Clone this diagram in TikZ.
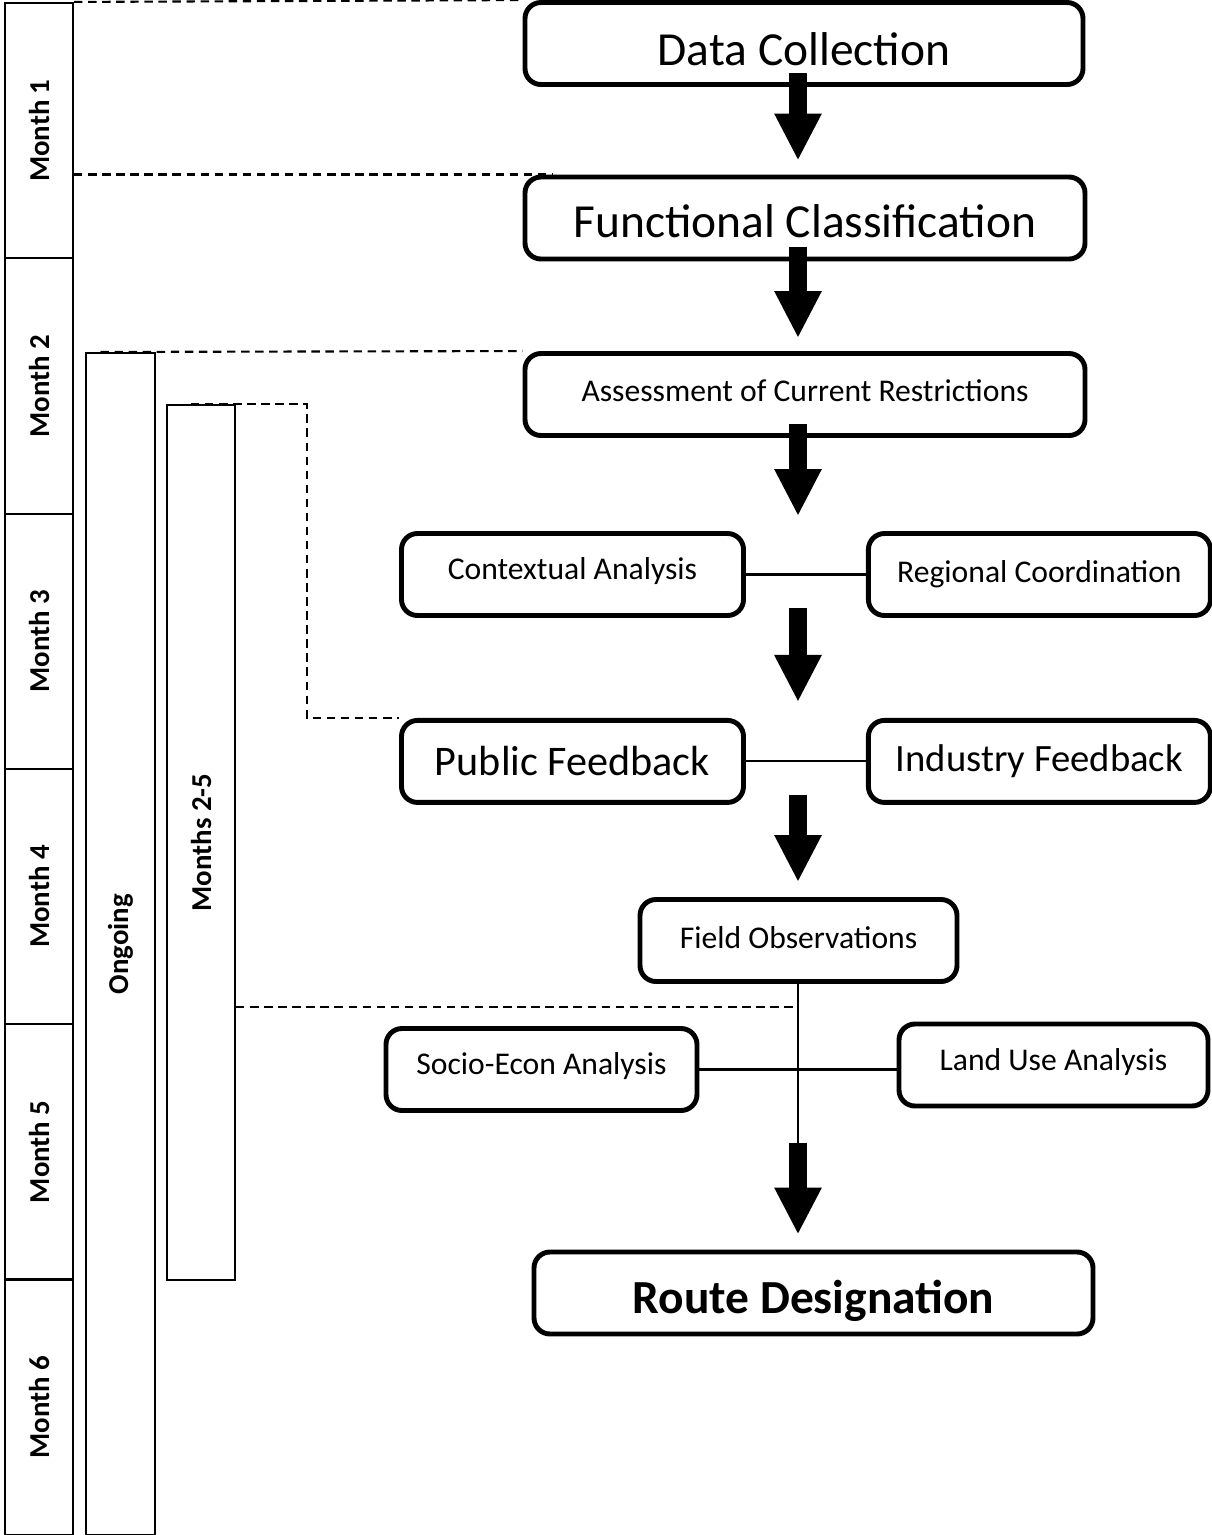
\documentclass[tikz,border=0pt]{standalone}
\usepackage{fontspec}
\setmainfont{Carlito}
\usetikzlibrary{positioning,calc,arrows.meta}

\newcommand{\shifttxt}[2]{\raisebox{#1}[\height][\depth]{#2}}

\begin{document}
\begin{tikzpicture}[proc/.style={
                draw, line width=1.4pt, rounded corners=1.6mm, align=center,
                inner sep=0pt, minimum height=0.82cm},
            month/.style={draw, line width=0.6pt, rotate=90, inner sep=0pt,
                minimum height=0.68cm, font=\fontsize{8.2}{10}\selectfont\bfseries},
            bigtxt/.style={font=\fontsize{13.5}{16}\selectfont},
            midtxt/.style={font=\fontsize{12}{14}\selectfont},
            smalltxt/.style={font=\fontsize{9}{11}\selectfont},
            bigarrow/.style={line width=1.8mm, -{Triangle[width=4.4mm,length=4.7mm]}},
            dashline/.style={line width=0.6pt, dash pattern=on 2.4pt off 1.6pt},
            link/.style={line width=0.6pt}]

  \useasboundingbox (0,0) rectangle (12.12,-15.35);

  % time line on the left
  \foreach \i in {1,...,6}
    \node [month, minimum width=2.553cm] (m\i) at (0.39,{-0.03-2.553*(\i-0.5)}) {Month \i};
  \node [month, minimum width=11.82cm, minimum height=0.69cm] (og) at (1.205,-9.44) {Ongoing};
  \node [month, minimum width=8.75cm] (mm) at (2.01,-8.425) {Months 2-5};

  % process boxes
  \node [proc, bigtxt, minimum width=5.58cm] (dc) at (8.04,-0.435) {\shifttxt{-0.6mm}{Data Collection}};
  \node [proc, bigtxt, minimum width=5.6cm] (fc) at (8.05,-2.18) {\shifttxt{-0.3mm}{Functional Classification}};
  \node [proc, smalltxt, minimum width=5.6cm] (ac) at (8.05,-3.945) {\shifttxt{0.4mm}{Assessment of Current Restrictions}};
  \node [proc, smalltxt, minimum width=3.42cm] (ca) at (5.725,-5.745) {\shifttxt{0.3mm}{Contextual Analysis}};
  \node [proc, smalltxt, minimum width=3.42cm, right=1.2cm of ca] (rc) {Regional Coordination};
  \node [proc, midtxt, minimum width=3.42cm, below=1cm of ca] (pf) {Public Feedback};
  \node [proc, font=\fontsize{11}{13}\selectfont, minimum width=3.42cm, right=1.2cm of pf] (ifb) {Industry Feedback};
  \node [proc, smalltxt, minimum width=3.17cm] (fo) at (7.985,-9.405) {\shifttxt{0.3mm}{Field Observations}};
  \node [proc, smalltxt, minimum width=3.11cm] (se) at (5.415,-10.695) {\shifttxt{0.3mm}{Socio-Econ Analysis}};
  \node [proc, smalltxt, minimum width=3.09cm] (lu) at (10.535,-10.65) {\shifttxt{0.3mm}{Land Use Analysis}};
  \node [proc, minimum width=5.59cm, font=\fontsize{13.5}{16}\selectfont\bfseries] (rd) at (8.135,-12.93) {\shifttxt{-0.8mm}{Route Designation}};

  % side links
  \draw [link] (ca.east) -- (rc.west);
  \draw [link] (pf.east) -- (ifb.west);
  \draw [link] (se.east) -- (se.east -| lu.west);

  % spine
  \coordinate (sp) at (7.98,0);
  \coordinate (fd) at ($(sp |- fo.south)+(0,-0.23)$);
  \coordinate (ja) at ($(sp |- fo.south)+(0,-1.59)$);
  \draw [link] (sp |- fo.south) -- (ja);

  % block arrows
  \foreach \a/\b/\s/\t in {dc/fc/.14/.14, fc/ac/.14/.13, ac/ca/.14/.15,
                           ca/pf/.1/.16, pf/fo/.1/.15}
    \draw [bigarrow] ($(sp |- \a.south)+(0,\s)$) -- ($(sp |- \b.north)+(0,\t)$);
  \draw [bigarrow] (ja) -- ($(sp |- rd.north)+(0,0.15)$);

  % time marks
  \draw [dashline] (m1.south east) -- (dc.north west);
  \draw [dashline] (m1.south |- fc.north) -- ([xshift=3mm]fc.north west);
  \draw [dashline] ([xshift=-2mm]og.east) -- (ac.north west);
  \draw [dashline] ([xshift=-1mm]mm.east) -| ([xshift=-9.2mm]pf.north west) -- (pf.north west);
  \draw [dashline] (fd -| mm.south) -- (fd);

\end{tikzpicture}
\end{document}
